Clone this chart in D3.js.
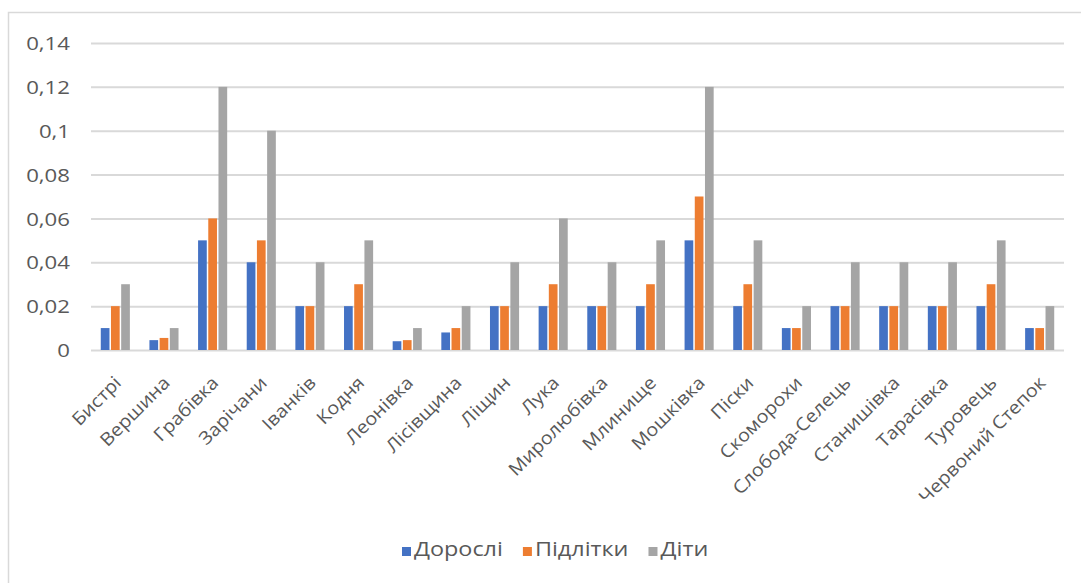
<!DOCTYPE html>
<html>
<head>
<meta charset="utf-8">
<script src="https://cdn.jsdelivr.net/npm/d3@7"></script>
<style>
  html, body { margin: 0; padding: 0; background: #fff; }
  svg { display: block; }
  text { font-family: "Open Sans", "Noto Sans", sans-serif; fill: #595959; }
</style>
</head>
<body>
<svg id="chart" width="1081" height="583"></svg>
<script>
// Villages (categories)
const categories = [
  "Бистрі", "Вершина", "Грабівка", "Зарічани", "Іванків", "Кодня", "Леонівка",
  "Лісівщина", "Ліщин", "Лука", "Миролюбівка", "Млинище", "Мошківка", "Піски",
  "Скоморохи", "Слобода-Селець", "Станишівка", "Тарасівка", "Туровець", "Червоний Степок"
];

// Series names
const seriesNames = ["Дорослі", "Підлітки", "Діти"];

// Values per series, in category order
const adults = [0.01, 0.0045, 0.05, 0.04, 0.02, 0.02, 0.004, 0.008, 0.02, 0.02,
                0.02, 0.02, 0.05, 0.02, 0.01, 0.02, 0.02, 0.02, 0.02, 0.01];
const teens  = [0.02, 0.0055, 0.06, 0.05, 0.02, 0.03, 0.0045, 0.01, 0.02, 0.03,
                0.02, 0.03, 0.07, 0.03, 0.01, 0.02, 0.02, 0.02, 0.03, 0.01];
const children = [0.03, 0.01, 0.12, 0.1, 0.04, 0.05, 0.01, 0.02, 0.04, 0.06,
                  0.04, 0.05, 0.12, 0.05, 0.02, 0.04, 0.04, 0.04, 0.05, 0.02];

// Y-axis tick values and labels
const yTicks = [0, 0.02, 0.04, 0.06, 0.08, 0.1, 0.12, 0.14];
const yTickLabels = ["0", "0,02", "0,04", "0,06", "0,08", "0,1", "0,12", "0,14"];

const colors = ["#4472C4", "#ED7D31", "#A5A5A5"];
const seriesValues = [adults, teens, children];

// Text is drawn with widened glyphs
const stretch = 1.2;
const labelStretch = 1.1;

const svg = d3.select("#chart");

// Chart frame
svg.append("rect")
  .attr("x", 8.5).attr("y", 12.5)
  .attr("width", 1100).attr("height", 600)
  .attr("fill", "#fff")
  .attr("stroke", "#d9d9d9")
  .attr("stroke-width", 1.5);

const plot = { left: 91, right: 1064, top: 43, bottom: 350 };

const x0 = d3.scaleBand()
  .domain(categories)
  .range([plot.left, plot.right])
  .padding(0);

const groupHalf = 15.3;
const x1 = d3.scaleBand()
  .domain(d3.range(seriesNames.length))
  .range([x0.bandwidth() / 2 - groupHalf, x0.bandwidth() / 2 + groupHalf])
  .padding(0);

const y = d3.scaleLinear()
  .domain([0, 0.14])
  .range([plot.bottom, plot.top]);

// Gridlines and value labels
const yAxis = d3.axisLeft(y)
  .tickValues(yTicks)
  .tickSize(-(plot.right - plot.left))
  .tickFormat((d, i) => yTickLabels[i]);

const gy = svg.append("g")
  .attr("transform", `translate(${plot.left},0)`)
  .call(yAxis);
gy.select(".domain").remove();
gy.selectAll(".tick line")
  .attr("stroke", "#d9d9d9")
  .attr("stroke-width", 2);
gy.selectAll(".tick text")
  .attr("x", 0)
  .attr("dy", "0.36em")
  .attr("text-anchor", "end")
  .attr("font-size", 18.5)
  .attr("fill", "#595959")
  .attr("transform", `translate(${70 - plot.left},0) scale(${stretch},1)`);

// Bars
const groups = svg.append("g")
  .selectAll("g")
  .data(categories)
  .join("g")
  .attr("transform", d => `translate(${x0(d)},0)`);

const barGap = 1.5;
groups.selectAll("rect")
  .data((d, i) => seriesValues.map((vals, s) => ({ s, v: vals[i] })))
  .join("rect")
  .attr("x", d => x1(d.s) + barGap / 2)
  .attr("width", x1.bandwidth() - barGap)
  .attr("y", d => y(d.v))
  .attr("height", d => y(0) - y(d.v))
  .attr("fill", d => colors[d.s]);

// Category labels, rotated
const xAxis = d3.axisBottom(x0).tickSize(0).tickPadding(0);
const gx = svg.append("g")
  .attr("transform", `translate(0,${plot.bottom})`)
  .call(xAxis);
gx.select(".domain").remove();
gx.selectAll(".tick text")
  .attr("y", 0)
  .attr("dy", "0")
  .attr("text-anchor", "end")
  .attr("font-size", 18)
  .attr("fill", "#595959")
  .attr("transform", `translate(7,34) rotate(-45) scale(${labelStretch},1)`);

// Legend
const legend = svg.append("g");
const items = legend.selectAll("g")
  .data(seriesNames)
  .join("g");
items.append("rect")
  .attr("width", 9).attr("height", 9)
  .attr("y", -8.5)
  .attr("fill", (d, i) => colors[i]);
items.append("text")
  .attr("x", 0)
  .attr("y", 0)
  .attr("font-size", 19.5)
  .attr("transform", `translate(12,0) scale(${stretch},1)`)
  .text(d => d);

let xpos = 0;
const legendGap = 20;
items.each(function () {
  const tw = d3.select(this).select("text").node().getComputedTextLength() * stretch;
  d3.select(this).attr("transform", `translate(${xpos},555.5)`);
  xpos += 12 + tw + legendGap;
});
legend.attr("transform", `translate(402,0)`);
</script>
</body>
</html>
